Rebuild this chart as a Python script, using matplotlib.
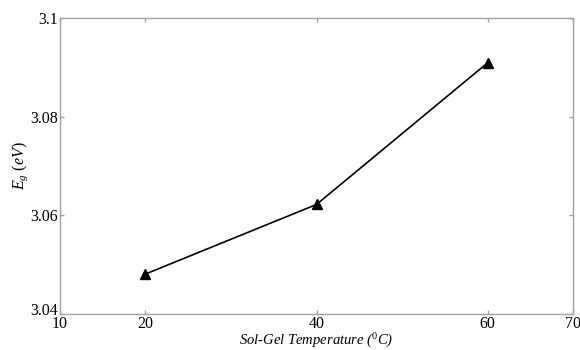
import matplotlib
matplotlib.use("Agg")
import matplotlib.pyplot as plt
import matplotlib.transforms as mtransforms

temperature = [20, 40, 60]
band_gap = [3.0481, 3.0622, 3.0909]
x_ticks = [10, 20, 40, 60, 70]
y_ticks = [3.04, 3.06, 3.08, 3.1]
y_tick_labels = ["3.04", "3.06", "3.08", "3.1"]

plt.rcParams['font.family'] = ['Liberation Serif', 'DejaVu Serif']
plt.rcParams['mathtext.fontset'] = 'custom'
plt.rcParams['mathtext.rm'] = 'Liberation Serif'
plt.rcParams['mathtext.it'] = 'Liberation Serif:italic'

fig = plt.figure(figsize=(5.8, 3.5), dpi=100)
ax = fig.add_axes([0.1034, 0.1029, 0.8846, 0.8457])
ax.plot(temperature, band_gap, color='black', linewidth=1.2, marker='^',
        markersize=6.5, markerfacecolor='black', markeredgecolor='black')
ax.set_xlim(10, 70)
ax.set_ylim(3.04, 3.1)
ax.set_xticks(x_ticks)
ax.set_xticklabels([str(t) for t in x_ticks])
ax.set_yticks(y_ticks)
ax.set_yticklabels(y_tick_labels)
for s in ax.spines.values():
    s.set_color('#a0a0a0')
    s.set_linewidth(1.0)
ax.tick_params(direction='in', length=3, width=1, color='#a0a0a0',
               top=True, right=True, labelsize=11.5, labelcolor='black', pad=1.5)
ax.tick_params(axis='x', pad=1.5)
lab0 = ax.yaxis.get_ticklabels()[0]
lab0.set_transform(lab0.get_transform() +
                   mtransforms.ScaledTranslation(0, 5 / 100, fig.dpi_scale_trans))
ax.set_xlabel(r'Sol-Gel Temperature ($^{0}$C)', fontstyle='italic', fontsize=10.5)
ax.xaxis.set_label_coords(0.5, -0.092)
ax.xaxis.label.set_va('center')
ax.set_ylabel(r'$E_g$ $(eV)$', fontsize=11.5)
ax.yaxis.set_label_coords(-0.078, 0.5)
ax.yaxis.label.set_va('center')
fig.savefig('out.png', dpi=100)
